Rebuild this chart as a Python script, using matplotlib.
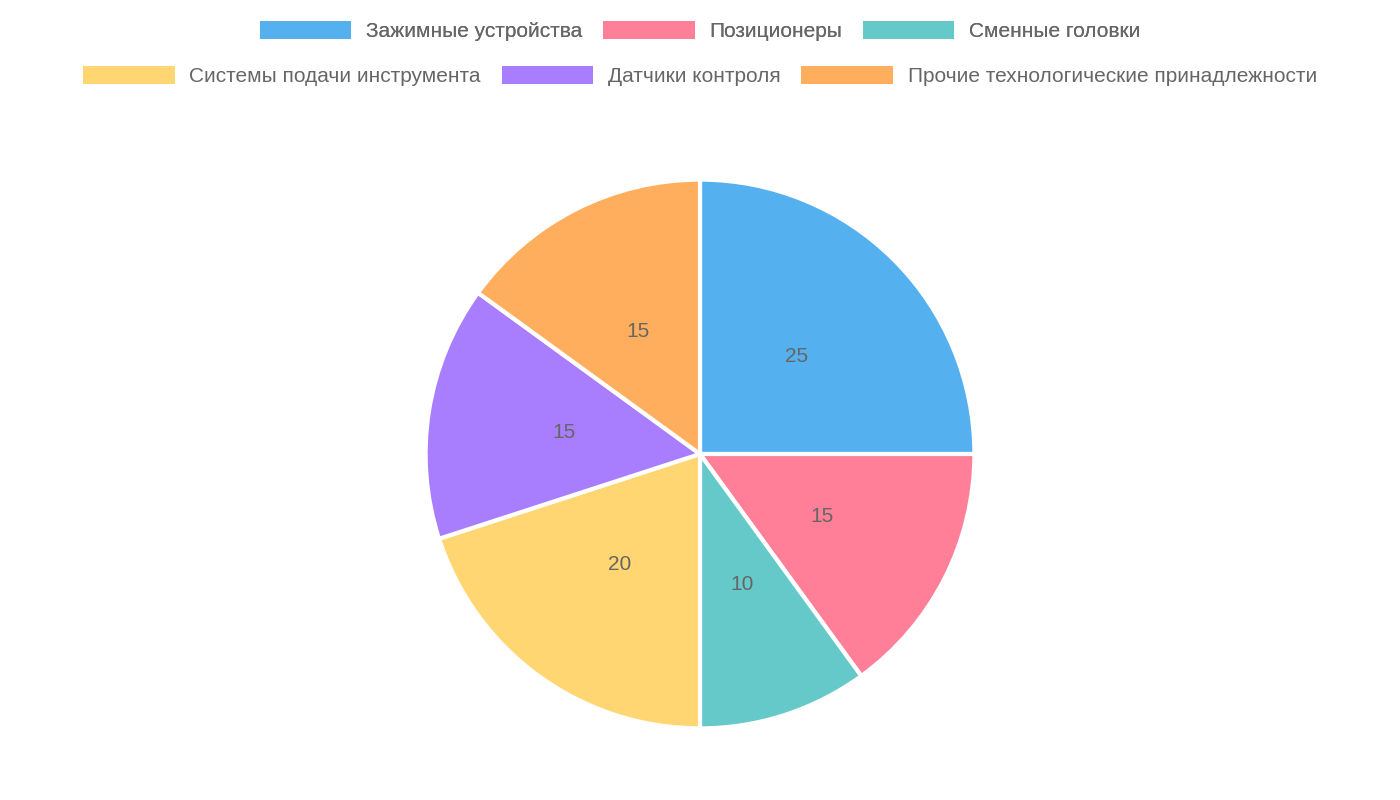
import matplotlib
matplotlib.use("Agg")
import matplotlib.pyplot as plt
from matplotlib.patches import Patch

categories = ["Зажимные устройства", "Позиционеры", "Сменные головки",
              "Системы подачи инструмента", "Датчики контроля",
              "Прочие технологические принадлежности"]
values = [25, 15, 10, 20, 15, 15]
colors = ["#55b0ef", "#ff7f98", "#66c9c9", "#ffd672", "#a87eff", "#ffae5e"]

plt.rcParams['font.family'] = ['Liberation Sans', 'DejaVu Sans']
fig = plt.figure(figsize=(14, 8), dpi=100)
ax = fig.add_axes([357/1400, 3/800, 686/1400, 686/800])
total = sum(values)
ax.pie(values, colors=colors, startangle=90, counterclock=False,
       wedgeprops=dict(edgecolor="white", linewidth=3),
       autopct=lambda p: f"{p*total/100:.0f}", pctdistance=0.5,
       textprops=dict(color="#666666", fontsize=15))
ax.set_aspect("equal")

handles = [Patch(facecolor=c, edgecolor="none") for c in colors]
kw = dict(frameon=False, fontsize=15, labelcolor="#666666", handlelength=4.4,
          handleheight=1.0, columnspacing=1.0, handletextpad=0.7, loc="center")
l1 = fig.legend(handles[:3], categories[:3], ncol=3, bbox_to_anchor=(0.5, 1-31/800), **kw)
fig.add_artist(l1)
fig.legend(handles[3:], categories[3:], ncol=3, bbox_to_anchor=(0.5, 1-76/800), **kw)
fig.savefig("out.png", dpi=100)
